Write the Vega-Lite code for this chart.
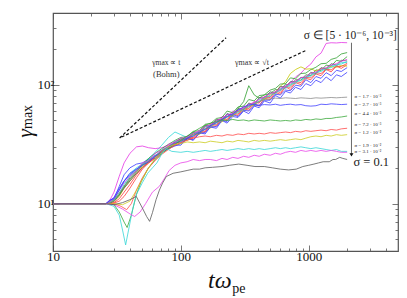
{
"$schema":"https://vega.github.io/schema/vega-lite/v6.json",
"width":345,"height":238,
"autosize":{"type":"none"},
"padding":{"left":53,"top":13,"right":9,"bottom":47},
"background":"white",
"config":{"view":{"stroke":"#555555","strokeWidth":1.2},"axis":{"grid":false,"domain":false},"text":{"font":"Liberation Serif, serif"}},
"datasets":{
"series":[
{"s":"b1","t":10,"g":10},{"s":"b1","t":26,"g":10},{"s":"b1","t":28,"g":10.8},{"s":"b1","t":30,"g":11},{"s":"b1","t":33,"g":14},{"s":"b1","t":36,"g":17.5},{"s":"b1","t":40,"g":20},{"s":"b1","t":45,"g":21.5},{"s":"b1","t":50,"g":22},{"s":"b1","t":56,"g":23.5},{"s":"b1","t":63,"g":25.5},{"s":"b1","t":71,"g":27},{"s":"b1","t":80,"g":29.5},{"s":"b1","t":90,"g":31},{"s":"b1","t":100,"g":31},{"s":"b1","t":112,"g":35.5},{"s":"b1","t":125,"g":34},{"s":"b1","t":140,"g":39.5},{"s":"b1","t":155,"g":38.5},{"s":"b1","t":170,"g":44},{"s":"b1","t":190,"g":43},{"s":"b1","t":210,"g":50},{"s":"b1","t":230,"g":47.5},{"s":"b1","t":255,"g":54},{"s":"b1","t":280,"g":53},{"s":"b1","t":310,"g":60},{"s":"b1","t":340,"g":57},{"s":"b1","t":375,"g":66},{"s":"b1","t":410,"g":64},{"s":"b1","t":450,"g":73},{"s":"b1","t":500,"g":70},{"s":"b1","t":550,"g":81},{"s":"b1","t":600,"g":77},{"s":"b1","t":660,"g":88},{"s":"b1","t":720,"g":85},{"s":"b1","t":790,"g":95},{"s":"b1","t":870,"g":91},{"s":"b1","t":950,"g":102},{"s":"b1","t":1040,"g":98},{"s":"b1","t":1140,"g":109},{"s":"b1","t":1250,"g":104},{"s":"b1","t":1370,"g":116},{"s":"b1","t":1500,"g":108},{"s":"b1","t":1650,"g":121},{"s":"b1","t":1800,"g":117},{"s":"b1","t":2000,"g":127},
{"s":"b2","t":10,"g":10},{"s":"b2","t":26,"g":10},{"s":"b2","t":28,"g":10.2},{"s":"b2","t":30,"g":10.6},{"s":"b2","t":33,"g":11.8},{"s":"b2","t":36,"g":13.8},{"s":"b2","t":40,"g":16},{"s":"b2","t":45,"g":18.5},{"s":"b2","t":50,"g":21},{"s":"b2","t":56,"g":22.5},{"s":"b2","t":63,"g":25},{"s":"b2","t":71,"g":28},{"s":"b2","t":80,"g":30},{"s":"b2","t":90,"g":33},{"s":"b2","t":100,"g":35},{"s":"b2","t":112,"g":35},{"s":"b2","t":125,"g":38.5},{"s":"b2","t":140,"g":40},{"s":"b2","t":155,"g":44.5},{"s":"b2","t":170,"g":45},{"s":"b2","t":190,"g":50},{"s":"b2","t":210,"g":51},{"s":"b2","t":230,"g":56},{"s":"b2","t":255,"g":56},{"s":"b2","t":280,"g":63},{"s":"b2","t":310,"g":72},{"s":"b2","t":340,"g":98},{"s":"b2","t":375,"g":82},{"s":"b2","t":410,"g":77},{"s":"b2","t":450,"g":82},{"s":"b2","t":500,"g":84},{"s":"b2","t":550,"g":91},{"s":"b2","t":600,"g":90},{"s":"b2","t":660,"g":101},{"s":"b2","t":720,"g":99},{"s":"b2","t":790,"g":110},{"s":"b2","t":870,"g":109},{"s":"b2","t":950,"g":121},{"s":"b2","t":1040,"g":119},{"s":"b2","t":1140,"g":133},{"s":"b2","t":1250,"g":131},{"s":"b2","t":1370,"g":146},{"s":"b2","t":1500,"g":143},{"s":"b2","t":1650,"g":160},{"s":"b2","t":1800,"g":157},{"s":"b2","t":2000,"g":172},
{"s":"b3","t":10,"g":10},{"s":"b3","t":26,"g":10},{"s":"b3","t":28,"g":10},{"s":"b3","t":30,"g":10.1},{"s":"b3","t":33,"g":10.5},{"s":"b3","t":36,"g":11.5},{"s":"b3","t":40,"g":13.5},{"s":"b3","t":45,"g":16.5},{"s":"b3","t":50,"g":19.5},{"s":"b3","t":56,"g":22},{"s":"b3","t":63,"g":24},{"s":"b3","t":71,"g":27},{"s":"b3","t":80,"g":29},{"s":"b3","t":90,"g":31},{"s":"b3","t":100,"g":32.5},{"s":"b3","t":112,"g":35},{"s":"b3","t":125,"g":35.5},{"s":"b3","t":140,"g":39.5},{"s":"b3","t":155,"g":40},{"s":"b3","t":170,"g":45},{"s":"b3","t":190,"g":45},{"s":"b3","t":210,"g":51},{"s":"b3","t":230,"g":50},{"s":"b3","t":255,"g":57},{"s":"b3","t":280,"g":55},{"s":"b3","t":310,"g":63},{"s":"b3","t":340,"g":61},{"s":"b3","t":375,"g":69},{"s":"b3","t":410,"g":66},{"s":"b3","t":450,"g":77},{"s":"b3","t":500,"g":75},{"s":"b3","t":550,"g":86},{"s":"b3","t":600,"g":83},{"s":"b3","t":660,"g":96},{"s":"b3","t":720,"g":91},{"s":"b3","t":790,"g":104},{"s":"b3","t":870,"g":100},{"s":"b3","t":950,"g":113},{"s":"b3","t":1040,"g":110},{"s":"b3","t":1140,"g":123},{"s":"b3","t":1250,"g":119},{"s":"b3","t":1370,"g":134},{"s":"b3","t":1500,"g":128},{"s":"b3","t":1650,"g":143},{"s":"b3","t":1800,"g":137},{"s":"b3","t":2000,"g":147},
{"s":"b4","t":10,"g":10},{"s":"b4","t":26,"g":10},{"s":"b4","t":28,"g":10.5},{"s":"b4","t":30,"g":10.9},{"s":"b4","t":33,"g":13},{"s":"b4","t":36,"g":15.5},{"s":"b4","t":40,"g":18},{"s":"b4","t":45,"g":20},{"s":"b4","t":50,"g":21.5},{"s":"b4","t":56,"g":24},{"s":"b4","t":63,"g":27},{"s":"b4","t":71,"g":31},{"s":"b4","t":80,"g":36},{"s":"b4","t":90,"g":40},{"s":"b4","t":100,"g":38},{"s":"b4","t":112,"g":36},{"s":"b4","t":125,"g":39.5},{"s":"b4","t":140,"g":39},{"s":"b4","t":155,"g":44.5},{"s":"b4","t":170,"g":44},{"s":"b4","t":190,"g":50},{"s":"b4","t":210,"g":50},{"s":"b4","t":230,"g":57},{"s":"b4","t":255,"g":55},{"s":"b4","t":280,"g":62},{"s":"b4","t":310,"g":61},{"s":"b4","t":340,"g":69},{"s":"b4","t":375,"g":67},{"s":"b4","t":410,"g":76},{"s":"b4","t":450,"g":75},{"s":"b4","t":500,"g":85},{"s":"b4","t":550,"g":83},{"s":"b4","t":600,"g":94},{"s":"b4","t":660,"g":92},{"s":"b4","t":720,"g":104},{"s":"b4","t":790,"g":102},{"s":"b4","t":870,"g":114},{"s":"b4","t":950,"g":112},{"s":"b4","t":1040,"g":124},{"s":"b4","t":1140,"g":122},{"s":"b4","t":1250,"g":135},{"s":"b4","t":1370,"g":132},{"s":"b4","t":1500,"g":145},{"s":"b4","t":1650,"g":143},{"s":"b4","t":1800,"g":154},{"s":"b4","t":2000,"g":153},
{"s":"b5","t":10,"g":10},{"s":"b5","t":26,"g":10},{"s":"b5","t":28,"g":10.8},{"s":"b5","t":30,"g":12.5},{"s":"b5","t":33,"g":17},{"s":"b5","t":36,"g":22},{"s":"b5","t":40,"g":26.5},{"s":"b5","t":45,"g":30},{"s":"b5","t":50,"g":30.5},{"s":"b5","t":56,"g":29.5},{"s":"b5","t":63,"g":29},{"s":"b5","t":71,"g":29.5},{"s":"b5","t":80,"g":31},{"s":"b5","t":90,"g":32.5},{"s":"b5","t":100,"g":34},{"s":"b5","t":112,"g":37},{"s":"b5","t":125,"g":37},{"s":"b5","t":140,"g":41.5},{"s":"b5","t":155,"g":42},{"s":"b5","t":170,"g":46.5},{"s":"b5","t":190,"g":48},{"s":"b5","t":210,"g":54},{"s":"b5","t":230,"g":53.5},{"s":"b5","t":255,"g":60},{"s":"b5","t":280,"g":59},{"s":"b5","t":310,"g":66},{"s":"b5","t":340,"g":65},{"s":"b5","t":375,"g":72},{"s":"b5","t":410,"g":71},{"s":"b5","t":450,"g":79},{"s":"b5","t":500,"g":79},{"s":"b5","t":550,"g":88},{"s":"b5","t":600,"g":89},{"s":"b5","t":660,"g":98},{"s":"b5","t":720,"g":104},{"s":"b5","t":790,"g":116},{"s":"b5","t":870,"g":125},{"s":"b5","t":950,"g":138},{"s":"b5","t":1040,"g":149},{"s":"b5","t":1140,"g":171},{"s":"b5","t":1250,"g":184},{"s":"b5","t":1370,"g":222},{"s":"b5","t":1500,"g":225},{"s":"b5","t":1650,"g":224},{"s":"b5","t":1800,"g":226},{"s":"b5","t":2000,"g":225},
{"s":"b6","t":10,"g":10},{"s":"b6","t":26,"g":10},{"s":"b6","t":28,"g":10.2},{"s":"b6","t":30,"g":10.5},{"s":"b6","t":33,"g":11.5},{"s":"b6","t":36,"g":13.5},{"s":"b6","t":40,"g":15.5},{"s":"b6","t":45,"g":18},{"s":"b6","t":50,"g":20.5},{"s":"b6","t":56,"g":22.5},{"s":"b6","t":63,"g":25},{"s":"b6","t":71,"g":27},{"s":"b6","t":80,"g":30},{"s":"b6","t":90,"g":31.5},{"s":"b6","t":100,"g":34},{"s":"b6","t":112,"g":34},{"s":"b6","t":125,"g":38},{"s":"b6","t":140,"g":38},{"s":"b6","t":155,"g":43},{"s":"b6","t":170,"g":43},{"s":"b6","t":190,"g":48.5},{"s":"b6","t":210,"g":48.5},{"s":"b6","t":230,"g":54},{"s":"b6","t":255,"g":54},{"s":"b6","t":280,"g":60},{"s":"b6","t":310,"g":60},{"s":"b6","t":340,"g":66},{"s":"b6","t":375,"g":67},{"s":"b6","t":410,"g":73},{"s":"b6","t":450,"g":75},{"s":"b6","t":500,"g":82},{"s":"b6","t":550,"g":86},{"s":"b6","t":600,"g":97},{"s":"b6","t":660,"g":106},{"s":"b6","t":720,"g":124},{"s":"b6","t":790,"g":134},{"s":"b6","t":870,"g":141},{"s":"b6","t":950,"g":135},{"s":"b6","t":1040,"g":136},{"s":"b6","t":1140,"g":130},{"s":"b6","t":1250,"g":137},{"s":"b6","t":1370,"g":135},{"s":"b6","t":1500,"g":142},{"s":"b6","t":1650,"g":140},{"s":"b6","t":1800,"g":145},{"s":"b6","t":2000,"g":143},
{"s":"b7","t":10,"g":10},{"s":"b7","t":26,"g":10},{"s":"b7","t":28,"g":10.1},{"s":"b7","t":30,"g":10.4},{"s":"b7","t":33,"g":11.8},{"s":"b7","t":36,"g":13.5},{"s":"b7","t":40,"g":15.5},{"s":"b7","t":45,"g":18},{"s":"b7","t":50,"g":20},{"s":"b7","t":56,"g":22.5},{"s":"b7","t":63,"g":25},{"s":"b7","t":71,"g":27.5},{"s":"b7","t":80,"g":30},{"s":"b7","t":90,"g":33},{"s":"b7","t":100,"g":35},{"s":"b7","t":112,"g":35},{"s":"b7","t":125,"g":39.5},{"s":"b7","t":140,"g":39},{"s":"b7","t":155,"g":45.5},{"s":"b7","t":170,"g":45},{"s":"b7","t":190,"g":51},{"s":"b7","t":210,"g":50.5},{"s":"b7","t":230,"g":57},{"s":"b7","t":255,"g":55},{"s":"b7","t":280,"g":63},{"s":"b7","t":310,"g":62},{"s":"b7","t":340,"g":70},{"s":"b7","t":375,"g":68},{"s":"b7","t":410,"g":78},{"s":"b7","t":450,"g":77},{"s":"b7","t":500,"g":87},{"s":"b7","t":550,"g":85},{"s":"b7","t":600,"g":97},{"s":"b7","t":660,"g":95},{"s":"b7","t":720,"g":106},{"s":"b7","t":790,"g":106},{"s":"b7","t":870,"g":115},{"s":"b7","t":950,"g":115},{"s":"b7","t":1040,"g":127},{"s":"b7","t":1140,"g":124},{"s":"b7","t":1250,"g":139},{"s":"b7","t":1370,"g":136},{"s":"b7","t":1500,"g":150},{"s":"b7","t":1650,"g":146},{"s":"b7","t":1800,"g":160},{"s":"b7","t":2000,"g":158},
{"s":"b8","t":10,"g":10},{"s":"b8","t":26,"g":10},{"s":"b8","t":28,"g":10.6},{"s":"b8","t":30,"g":11.3},{"s":"b8","t":33,"g":13.5},{"s":"b8","t":36,"g":15.5},{"s":"b8","t":40,"g":17.5},{"s":"b8","t":45,"g":19.5},{"s":"b8","t":50,"g":21},{"s":"b8","t":56,"g":23.5},{"s":"b8","t":63,"g":24},{"s":"b8","t":71,"g":27},{"s":"b8","t":80,"g":29},{"s":"b8","t":90,"g":30.5},{"s":"b8","t":100,"g":32},{"s":"b8","t":112,"g":35},{"s":"b8","t":125,"g":34.5},{"s":"b8","t":140,"g":39},{"s":"b8","t":155,"g":39.5},{"s":"b8","t":170,"g":44},{"s":"b8","t":190,"g":44.5},{"s":"b8","t":210,"g":50},{"s":"b8","t":230,"g":49},{"s":"b8","t":255,"g":56},{"s":"b8","t":280,"g":54},{"s":"b8","t":310,"g":61},{"s":"b8","t":340,"g":60},{"s":"b8","t":375,"g":67},{"s":"b8","t":410,"g":67},{"s":"b8","t":450,"g":74},{"s":"b8","t":500,"g":74},{"s":"b8","t":550,"g":83},{"s":"b8","t":600,"g":82},{"s":"b8","t":660,"g":90},{"s":"b8","t":720,"g":89},{"s":"b8","t":790,"g":99},{"s":"b8","t":870,"g":97},{"s":"b8","t":950,"g":110},{"s":"b8","t":1040,"g":104},{"s":"b8","t":1140,"g":117},{"s":"b8","t":1250,"g":113},{"s":"b8","t":1370,"g":126},{"s":"b8","t":1500,"g":119},{"s":"b8","t":1650,"g":132},{"s":"b8","t":1800,"g":129},{"s":"b8","t":2000,"g":139},
{"s":"b9","t":10,"g":10},{"s":"b9","t":26,"g":10},{"s":"b9","t":28,"g":10.2},{"s":"b9","t":30,"g":10.7},{"s":"b9","t":33,"g":12},{"s":"b9","t":36,"g":14},{"s":"b9","t":40,"g":16.5},{"s":"b9","t":45,"g":19},{"s":"b9","t":50,"g":21.5},{"s":"b9","t":56,"g":24},{"s":"b9","t":63,"g":26.5},{"s":"b9","t":71,"g":29},{"s":"b9","t":80,"g":31.5},{"s":"b9","t":90,"g":34},{"s":"b9","t":100,"g":36},{"s":"b9","t":112,"g":36.5},{"s":"b9","t":125,"g":40.5},{"s":"b9","t":140,"g":41},{"s":"b9","t":155,"g":46.5},{"s":"b9","t":170,"g":47},{"s":"b9","t":190,"g":52},{"s":"b9","t":210,"g":53},{"s":"b9","t":230,"g":60},{"s":"b9","t":255,"g":58},{"s":"b9","t":280,"g":65},{"s":"b9","t":310,"g":66},{"s":"b9","t":340,"g":75},{"s":"b9","t":375,"g":73},{"s":"b9","t":410,"g":81},{"s":"b9","t":450,"g":82},{"s":"b9","t":500,"g":90},{"s":"b9","t":550,"g":93},{"s":"b9","t":600,"g":101},{"s":"b9","t":660,"g":102},{"s":"b9","t":720,"g":114},{"s":"b9","t":790,"g":112},{"s":"b9","t":870,"g":124},{"s":"b9","t":950,"g":125},{"s":"b9","t":1040,"g":134},{"s":"b9","t":1140,"g":140},{"s":"b9","t":1250,"g":150},{"s":"b9","t":1370,"g":151},{"s":"b9","t":1500,"g":163},{"s":"b9","t":1650,"g":168},{"s":"b9","t":1800,"g":181},{"s":"b9","t":2000,"g":186},
{"s":"b10","t":10,"g":10},{"s":"b10","t":26,"g":10},{"s":"b10","t":28,"g":10},{"s":"b10","t":30,"g":10.2},{"s":"b10","t":33,"g":11},{"s":"b10","t":36,"g":12.5},{"s":"b10","t":40,"g":14.5},{"s":"b10","t":45,"g":17.5},{"s":"b10","t":50,"g":20},{"s":"b10","t":56,"g":22},{"s":"b10","t":63,"g":24.5},{"s":"b10","t":71,"g":27.5},{"s":"b10","t":80,"g":30.5},{"s":"b10","t":90,"g":32},{"s":"b10","t":100,"g":33},{"s":"b10","t":112,"g":36},{"s":"b10","t":125,"g":36},{"s":"b10","t":140,"g":41},{"s":"b10","t":155,"g":40.5},{"s":"b10","t":170,"g":46.5},{"s":"b10","t":190,"g":46},{"s":"b10","t":210,"g":52.5},{"s":"b10","t":230,"g":51},{"s":"b10","t":255,"g":58},{"s":"b10","t":280,"g":56.5},{"s":"b10","t":310,"g":64},{"s":"b10","t":340,"g":63},{"s":"b10","t":375,"g":71},{"s":"b10","t":410,"g":70},{"s":"b10","t":450,"g":79},{"s":"b10","t":500,"g":78},{"s":"b10","t":550,"g":88},{"s":"b10","t":600,"g":86},{"s":"b10","t":660,"g":96},{"s":"b10","t":720,"g":95},{"s":"b10","t":790,"g":106},{"s":"b10","t":870,"g":104},{"s":"b10","t":950,"g":115},{"s":"b10","t":1040,"g":114},{"s":"b10","t":1140,"g":126},{"s":"b10","t":1250,"g":124},{"s":"b10","t":1370,"g":135},{"s":"b10","t":1500,"g":133},{"s":"b10","t":1650,"g":143},{"s":"b10","t":1800,"g":142},{"s":"b10","t":2000,"g":151},
{"s":"b11","t":10,"g":10},{"s":"b11","t":26,"g":10},{"s":"b11","t":28,"g":10.3},{"s":"b11","t":30,"g":10.7},{"s":"b11","t":33,"g":12.3},{"s":"b11","t":36,"g":14.5},{"s":"b11","t":40,"g":17},{"s":"b11","t":45,"g":19.5},{"s":"b11","t":50,"g":21},{"s":"b11","t":56,"g":23.5},{"s":"b11","t":63,"g":25},{"s":"b11","t":71,"g":28.5},{"s":"b11","t":80,"g":30},{"s":"b11","t":90,"g":33.5},{"s":"b11","t":100,"g":33},{"s":"b11","t":112,"g":36},{"s":"b11","t":125,"g":37},{"s":"b11","t":140,"g":41},{"s":"b11","t":155,"g":42},{"s":"b11","t":170,"g":46},{"s":"b11","t":190,"g":47},{"s":"b11","t":210,"g":52},{"s":"b11","t":230,"g":53},{"s":"b11","t":255,"g":57},{"s":"b11","t":280,"g":58},{"s":"b11","t":310,"g":63},{"s":"b11","t":340,"g":65},{"s":"b11","t":375,"g":70},{"s":"b11","t":410,"g":72},{"s":"b11","t":450,"g":78},{"s":"b11","t":500,"g":80},{"s":"b11","t":550,"g":87},{"s":"b11","t":600,"g":89},{"s":"b11","t":660,"g":96},{"s":"b11","t":720,"g":98},{"s":"b11","t":790,"g":106},{"s":"b11","t":870,"g":108},{"s":"b11","t":950,"g":116},{"s":"b11","t":1040,"g":118},{"s":"b11","t":1140,"g":127},{"s":"b11","t":1250,"g":129},{"s":"b11","t":1370,"g":137},{"s":"b11","t":1500,"g":139},{"s":"b11","t":1650,"g":147},{"s":"b11","t":1800,"g":149},{"s":"b11","t":2000,"g":156},
{"s":"b12","t":10,"g":10},{"s":"b12","t":26,"g":10},{"s":"b12","t":28,"g":10.4},{"s":"b12","t":30,"g":11},{"s":"b12","t":33,"g":13},{"s":"b12","t":36,"g":15},{"s":"b12","t":40,"g":17},{"s":"b12","t":45,"g":19},{"s":"b12","t":50,"g":22},{"s":"b12","t":56,"g":23},{"s":"b12","t":63,"g":26.5},{"s":"b12","t":71,"g":28},{"s":"b12","t":80,"g":31.5},{"s":"b12","t":90,"g":33},{"s":"b12","t":100,"g":35.5},{"s":"b12","t":112,"g":36},{"s":"b12","t":125,"g":39},{"s":"b12","t":140,"g":41},{"s":"b12","t":155,"g":44.5},{"s":"b12","t":170,"g":46},{"s":"b12","t":190,"g":50},{"s":"b12","t":210,"g":52},{"s":"b12","t":230,"g":56},{"s":"b12","t":255,"g":57},{"s":"b12","t":280,"g":61},{"s":"b12","t":310,"g":64},{"s":"b12","t":340,"g":68},{"s":"b12","t":375,"g":71},{"s":"b12","t":410,"g":75},{"s":"b12","t":450,"g":79},{"s":"b12","t":500,"g":84},{"s":"b12","t":550,"g":87},{"s":"b12","t":600,"g":93},{"s":"b12","t":660,"g":97},{"s":"b12","t":720,"g":103},{"s":"b12","t":790,"g":107},{"s":"b12","t":870,"g":114},{"s":"b12","t":950,"g":117},{"s":"b12","t":1040,"g":124},{"s":"b12","t":1140,"g":128},{"s":"b12","t":1250,"g":135},{"s":"b12","t":1370,"g":139},{"s":"b12","t":1500,"g":146},{"s":"b12","t":1650,"g":150},{"s":"b12","t":1800,"g":157},{"s":"b12","t":2000,"g":163},
{"s":"s1","t":10,"g":10},{"s":"s1","t":26,"g":10},{"s":"s1","t":28,"g":10.3},{"s":"s1","t":30,"g":10.8},{"s":"s1","t":33,"g":12.3},{"s":"s1","t":36,"g":14},{"s":"s1","t":40,"g":16},{"s":"s1","t":45,"g":18.5},{"s":"s1","t":50,"g":21},{"s":"s1","t":56,"g":23},{"s":"s1","t":63,"g":25},{"s":"s1","t":71,"g":28},{"s":"s1","t":80,"g":30},{"s":"s1","t":90,"g":32},{"s":"s1","t":100,"g":34.5},{"s":"s1","t":112,"g":35.5},{"s":"s1","t":125,"g":38},{"s":"s1","t":140,"g":39.5},{"s":"s1","t":155,"g":43},{"s":"s1","t":170,"g":44.5},{"s":"s1","t":190,"g":48.5},{"s":"s1","t":210,"g":50},{"s":"s1","t":230,"g":54},{"s":"s1","t":255,"g":55.5},{"s":"s1","t":280,"g":59.5},{"s":"s1","t":310,"g":62},{"s":"s1","t":340,"g":66.5},{"s":"s1","t":375,"g":69},{"s":"s1","t":410,"g":72},{"s":"s1","t":450,"g":74.5},{"s":"s1","t":500,"g":76},{"s":"s1","t":550,"g":77},{"s":"s1","t":600,"g":76.5},{"s":"s1","t":660,"g":77.5},{"s":"s1","t":720,"g":77},{"s":"s1","t":790,"g":76.5},{"s":"s1","t":870,"g":77.5},{"s":"s1","t":950,"g":77},{"s":"s1","t":1040,"g":76.5},{"s":"s1","t":1140,"g":77.5},{"s":"s1","t":1250,"g":77},{"s":"s1","t":1370,"g":77.5},{"s":"s1","t":1500,"g":78},{"s":"s1","t":1650,"g":77.5},{"s":"s1","t":1800,"g":78},{"s":"s1","t":2000,"g":78.5},
{"s":"s2","t":10,"g":10},{"s":"s2","t":26,"g":10},{"s":"s2","t":28,"g":10.7},{"s":"s2","t":30,"g":11},{"s":"s2","t":33,"g":13},{"s":"s2","t":36,"g":15.5},{"s":"s2","t":40,"g":18},{"s":"s2","t":45,"g":19.5},{"s":"s2","t":50,"g":21},{"s":"s2","t":56,"g":22.5},{"s":"s2","t":63,"g":25},{"s":"s2","t":71,"g":27},{"s":"s2","t":80,"g":30},{"s":"s2","t":90,"g":32},{"s":"s2","t":100,"g":33.5},{"s":"s2","t":112,"g":35.5},{"s":"s2","t":125,"g":37},{"s":"s2","t":140,"g":40},{"s":"s2","t":155,"g":42},{"s":"s2","t":170,"g":45},{"s":"s2","t":190,"g":48},{"s":"s2","t":210,"g":51},{"s":"s2","t":230,"g":54},{"s":"s2","t":255,"g":57},{"s":"s2","t":280,"g":61},{"s":"s2","t":310,"g":65},{"s":"s2","t":340,"g":67.5},{"s":"s2","t":375,"g":68.5},{"s":"s2","t":410,"g":67},{"s":"s2","t":450,"g":68},{"s":"s2","t":500,"g":67.5},{"s":"s2","t":550,"g":68.5},{"s":"s2","t":600,"g":67},{"s":"s2","t":660,"g":68},{"s":"s2","t":720,"g":68.5},{"s":"s2","t":790,"g":67.5},{"s":"s2","t":870,"g":68},{"s":"s2","t":950,"g":66.5},{"s":"s2","t":1040,"g":66},{"s":"s2","t":1140,"g":66.5},{"s":"s2","t":1250,"g":68.5},{"s":"s2","t":1370,"g":68},{"s":"s2","t":1500,"g":69},{"s":"s2","t":1650,"g":68.5},{"s":"s2","t":1800,"g":68},{"s":"s2","t":2000,"g":68.5},
{"s":"s3","t":10,"g":10},{"s":"s3","t":26,"g":10},{"s":"s3","t":30,"g":9.8},{"s":"s3","t":33,"g":8.5},{"s":"s3","t":36,"g":7},{"s":"s3","t":38,"g":6.3},{"s":"s3","t":41,"g":8},{"s":"s3","t":45,"g":12},{"s":"s3","t":49,"g":15.3},{"s":"s3","t":55,"g":19.5},{"s":"s3","t":63,"g":23.5},{"s":"s3","t":71,"g":26.5},{"s":"s3","t":80,"g":29},{"s":"s3","t":90,"g":31.5},{"s":"s3","t":100,"g":34},{"s":"s3","t":112,"g":37},{"s":"s3","t":125,"g":40},{"s":"s3","t":140,"g":43},{"s":"s3","t":155,"g":45.5},{"s":"s3","t":170,"g":47.5},{"s":"s3","t":190,"g":49},{"s":"s3","t":210,"g":50.5},{"s":"s3","t":230,"g":50},{"s":"s3","t":255,"g":51},{"s":"s3","t":280,"g":50},{"s":"s3","t":310,"g":50.5},{"s":"s3","t":340,"g":49.5},{"s":"s3","t":375,"g":50.5},{"s":"s3","t":410,"g":50},{"s":"s3","t":450,"g":49.5},{"s":"s3","t":500,"g":50.5},{"s":"s3","t":550,"g":50},{"s":"s3","t":600,"g":49.5},{"s":"s3","t":660,"g":50},{"s":"s3","t":720,"g":49.5},{"s":"s3","t":790,"g":50.5},{"s":"s3","t":870,"g":50},{"s":"s3","t":950,"g":51},{"s":"s3","t":1040,"g":50.5},{"s":"s3","t":1140,"g":51.5},{"s":"s3","t":1250,"g":51},{"s":"s3","t":1370,"g":52},{"s":"s3","t":1500,"g":52},{"s":"s3","t":1650,"g":53},{"s":"s3","t":1800,"g":53.5},{"s":"s3","t":2000,"g":54.5},
{"s":"s4","t":10,"g":10},{"s":"s4","t":26,"g":10},{"s":"s4","t":30,"g":10},{"s":"s4","t":34,"g":9.5},{"s":"s4","t":37.7,"g":8.9},{"s":"s4","t":41,"g":10},{"s":"s4","t":45,"g":13},{"s":"s4","t":50,"g":16.5},{"s":"s4","t":56,"g":20},{"s":"s4","t":63,"g":23},{"s":"s4","t":71,"g":26},{"s":"s4","t":80,"g":28.5},{"s":"s4","t":90,"g":31},{"s":"s4","t":100,"g":32.5},{"s":"s4","t":112,"g":34},{"s":"s4","t":125,"g":35.5},{"s":"s4","t":140,"g":36.5},{"s":"s4","t":155,"g":37},{"s":"s4","t":170,"g":36.5},{"s":"s4","t":190,"g":37.5},{"s":"s4","t":210,"g":37},{"s":"s4","t":230,"g":38},{"s":"s4","t":255,"g":37.5},{"s":"s4","t":280,"g":38.5},{"s":"s4","t":310,"g":38},{"s":"s4","t":340,"g":39},{"s":"s4","t":375,"g":38.5},{"s":"s4","t":410,"g":39},{"s":"s4","t":450,"g":38.5},{"s":"s4","t":500,"g":39.5},{"s":"s4","t":550,"g":39},{"s":"s4","t":600,"g":39.5},{"s":"s4","t":660,"g":40},{"s":"s4","t":720,"g":39.5},{"s":"s4","t":790,"g":40.5},{"s":"s4","t":870,"g":40},{"s":"s4","t":950,"g":41},{"s":"s4","t":1040,"g":40.5},{"s":"s4","t":1140,"g":41},{"s":"s4","t":1250,"g":41.5},{"s":"s4","t":1370,"g":41},{"s":"s4","t":1500,"g":42},{"s":"s4","t":1650,"g":41.5},{"s":"s4","t":1800,"g":42.5},{"s":"s4","t":2000,"g":43},
{"s":"s5","t":10,"g":10},{"s":"s5","t":26,"g":10},{"s":"s5","t":30,"g":10},{"s":"s5","t":35,"g":9.8},{"s":"s5","t":40,"g":10.5},{"s":"s5","t":45,"g":13},{"s":"s5","t":50,"g":16},{"s":"s5","t":56,"g":20},{"s":"s5","t":63,"g":24},{"s":"s5","t":71,"g":27},{"s":"s5","t":80,"g":30},{"s":"s5","t":90,"g":31.5},{"s":"s5","t":100,"g":32},{"s":"s5","t":112,"g":33},{"s":"s5","t":125,"g":32.5},{"s":"s5","t":140,"g":33},{"s":"s5","t":155,"g":32.5},{"s":"s5","t":170,"g":33.5},{"s":"s5","t":190,"g":33},{"s":"s5","t":210,"g":32.5},{"s":"s5","t":230,"g":33.5},{"s":"s5","t":255,"g":33},{"s":"s5","t":280,"g":34},{"s":"s5","t":310,"g":33.5},{"s":"s5","t":340,"g":33},{"s":"s5","t":375,"g":34},{"s":"s5","t":410,"g":33.5},{"s":"s5","t":450,"g":34},{"s":"s5","t":500,"g":33.5},{"s":"s5","t":550,"g":34},{"s":"s5","t":600,"g":34.5},{"s":"s5","t":660,"g":34},{"s":"s5","t":720,"g":34.5},{"s":"s5","t":790,"g":35},{"s":"s5","t":870,"g":34.5},{"s":"s5","t":950,"g":35.5},{"s":"s5","t":1040,"g":36.5},{"s":"s5","t":1140,"g":37},{"s":"s5","t":1250,"g":36.5},{"s":"s5","t":1370,"g":37.5},{"s":"s5","t":1500,"g":37},{"s":"s5","t":1650,"g":38},{"s":"s5","t":1800,"g":37.5},{"s":"s5","t":2000,"g":38},
{"s":"s6","t":10,"g":10},{"s":"s6","t":26,"g":10},{"s":"s6","t":30,"g":9.5},{"s":"s6","t":33,"g":8},{"s":"s6","t":35,"g":6},{"s":"s6","t":37,"g":4.5},{"s":"s6","t":39,"g":6},{"s":"s6","t":42,"g":9},{"s":"s6","t":45,"g":12},{"s":"s6","t":50,"g":15},{"s":"s6","t":55,"g":18},{"s":"s6","t":60,"g":20},{"s":"s6","t":65,"g":22},{"s":"s6","t":72,"g":27},{"s":"s6","t":77,"g":29},{"s":"s6","t":85,"g":27.5},{"s":"s6","t":100,"g":27},{"s":"s6","t":112,"g":27.5},{"s":"s6","t":125,"g":27},{"s":"s6","t":140,"g":27.5},{"s":"s6","t":155,"g":28},{"s":"s6","t":170,"g":27.5},{"s":"s6","t":190,"g":28},{"s":"s6","t":210,"g":28.5},{"s":"s6","t":230,"g":28},{"s":"s6","t":255,"g":28.5},{"s":"s6","t":280,"g":29},{"s":"s6","t":310,"g":28.5},{"s":"s6","t":340,"g":29},{"s":"s6","t":375,"g":28.5},{"s":"s6","t":410,"g":29},{"s":"s6","t":450,"g":28.5},{"s":"s6","t":500,"g":29},{"s":"s6","t":550,"g":29.5},{"s":"s6","t":600,"g":29},{"s":"s6","t":660,"g":29.5},{"s":"s6","t":720,"g":29},{"s":"s6","t":790,"g":29.5},{"s":"s6","t":870,"g":30},{"s":"s6","t":950,"g":29.5},{"s":"s6","t":1040,"g":29},{"s":"s6","t":1140,"g":29.5},{"s":"s6","t":1250,"g":29},{"s":"s6","t":1370,"g":28.5},{"s":"s6","t":1500,"g":28},{"s":"s6","t":1650,"g":28.5},{"s":"s6","t":1800,"g":27.5},{"s":"s6","t":2000,"g":27.5},
{"s":"s7","t":10,"g":10},{"s":"s7","t":26,"g":10},{"s":"s7","t":30,"g":9.8},{"s":"s7","t":35,"g":9},{"s":"s7","t":40,"g":8.2},{"s":"s7","t":43.5,"g":7.8},{"s":"s7","t":48,"g":8.5},{"s":"s7","t":53,"g":10},{"s":"s7","t":60,"g":12.5},{"s":"s7","t":68,"g":14},{"s":"s7","t":75,"g":16.5},{"s":"s7","t":81,"g":19},{"s":"s7","t":90,"g":21},{"s":"s7","t":100,"g":22},{"s":"s7","t":112,"g":22.5},{"s":"s7","t":125,"g":23.5},{"s":"s7","t":140,"g":23},{"s":"s7","t":155,"g":23.5},{"s":"s7","t":170,"g":23.5},{"s":"s7","t":190,"g":23},{"s":"s7","t":210,"g":24},{"s":"s7","t":230,"g":23.5},{"s":"s7","t":255,"g":24.5},{"s":"s7","t":280,"g":24},{"s":"s7","t":310,"g":25},{"s":"s7","t":340,"g":24.5},{"s":"s7","t":375,"g":25.5},{"s":"s7","t":410,"g":25},{"s":"s7","t":450,"g":26},{"s":"s7","t":500,"g":25.5},{"s":"s7","t":550,"g":26.5},{"s":"s7","t":600,"g":26},{"s":"s7","t":660,"g":27},{"s":"s7","t":720,"g":27.5},{"s":"s7","t":790,"g":27},{"s":"s7","t":870,"g":28},{"s":"s7","t":950,"g":27.5},{"s":"s7","t":1040,"g":28},{"s":"s7","t":1140,"g":27.5},{"s":"s7","t":1250,"g":28},{"s":"s7","t":1370,"g":27.5},{"s":"s7","t":1500,"g":28},{"s":"s7","t":1650,"g":27.5},{"s":"s7","t":1800,"g":27},{"s":"s7","t":2000,"g":27},
{"s":"s8","t":10,"g":10},{"s":"s8","t":26,"g":10},{"s":"s8","t":30,"g":9.8},{"s":"s8","t":35,"g":10.2},{"s":"s8","t":40,"g":10.8},{"s":"s8","t":44.8,"g":11.5},{"s":"s8","t":50,"g":9.2},{"s":"s8","t":54,"g":7.8},{"s":"s8","t":57,"g":7.1},{"s":"s8","t":60,"g":8.4},{"s":"s8","t":64,"g":10.8},{"s":"s8","t":68,"g":13},{"s":"s8","t":72,"g":14.9},{"s":"s8","t":77,"g":16.9},{"s":"s8","t":87,"g":18},{"s":"s8","t":100,"g":18.5},{"s":"s8","t":112,"g":19},{"s":"s8","t":125,"g":19.5},{"s":"s8","t":140,"g":19.5},{"s":"s8","t":155,"g":20},{"s":"s8","t":177,"g":20.2},{"s":"s8","t":210,"g":20.5},{"s":"s8","t":240,"g":21},{"s":"s8","t":284,"g":21.5},{"s":"s8","t":330,"g":21},{"s":"s8","t":380,"g":20.5},{"s":"s8","t":450,"g":20.5},{"s":"s8","t":520,"g":20},{"s":"s8","t":600,"g":19.5},{"s":"s8","t":697,"g":19.2},{"s":"s8","t":800,"g":19.5},{"s":"s8","t":900,"g":20.5},{"s":"s8","t":1000,"g":21},{"s":"s8","t":1100,"g":21.5},{"s":"s8","t":1196,"g":22},{"s":"s8","t":1300,"g":22.5},{"s":"s8","t":1450,"g":22.5},{"s":"s8","t":1550,"g":23.5},{"s":"s8","t":1626,"g":23.5},{"s":"s8","t":1750,"g":24.5},{"s":"s8","t":1850,"g":24},{"s":"s8","t":2000,"g":23.5}
],
"guides":[
{"k":"bohm","t":33.2,"g":35.6},{"k":"bohm","t":226,"g":248},
{"k":"sqrt","t":34.4,"g":36.3},{"k":"sqrt","t":948,"g":193.6}
],
"labels":[
{"label":"σ = 1.7 · 10⁻³","t":2280,"g":80.4},
{"label":"σ = 2.7 · 10⁻³","t":2280,"g":69.4},
{"label":"σ = 4.4 · 10⁻³","t":2280,"g":57.3},
{"label":"σ = 7.2 · 10⁻³","t":2280,"g":46.4},
{"label":"σ = 1.2 · 10⁻²","t":2280,"g":39.7},
{"label":"σ = 1.9 · 10⁻²","t":2280,"g":30.9},
{"label":"σ = 3.1 · 10⁻²","t":2280,"g":27.8}
]
},
"resolve":{"axis":{"x":"independent","y":"independent"}},
"layer":[
{"data":{"name":"series"},
 "mark":{"type":"line","strokeWidth":0.8,"clip":true},
 "encoding":{
  "x":{"field":"t","type":"quantitative","scale":{"type":"log","domain":[10,5000],"nice":false},
   "axis":{"orient":"bottom","title":null,"values":[10,20,30,40,50,60,70,80,90,100,200,300,400,500,600,700,800,900,1000,2000,3000,4000],
    "labelExpr":"datum.value==10?'10':datum.value==100?'100':datum.value==1000?'1000':''",
    "labelOverlap":false,"labelFlush":false,"labelFont":"Liberation Serif, serif","labelFontSize":13,"labelColor":"#111111","labelPadding":5,
    "tickSize":{"condition":{"test":"datum.value==10||datum.value==100||datum.value==1000","value":-6},"value":-3},
    "tickColor":"#555555","tickWidth":0.8,"domain":false,"grid":false}},
  "y":{"field":"g","type":"quantitative","scale":{"type":"log","domain":[4,400],"nice":false},
   "axis":{"orient":"left","title":null,"values":[5,6,7,8,9,10,20,30,40,50,60,70,80,90,100,200,300],
    "labelExpr":"datum.value==10?'10¹':datum.value==100?'10²':''",
    "labelOverlap":false,"labelFlush":false,"labelFont":"Liberation Serif, serif","labelFontSize":13,"labelColor":"#111111","labelPadding":5,
    "tickSize":{"condition":{"test":"datum.value==10||datum.value==100","value":-6},"value":-3},
    "tickColor":"#555555","tickWidth":0.8,"domain":false,"grid":false}},
  "color":{"field":"s","type":"nominal","legend":null,
   "scale":{"domain":["b1","b2","b3","b4","b5","b6","b7","b8","b9","b10","b11","b12","s1","s2","s3","s4","s5","s6","s7","s8"],
    "range":["#3a3aff","#2ea02e","#ff3a3a","#30d8d8","#e535e5","#c8c800","#606060","#3a3aff","#2ea02e","#ff3a3a","#30d8d8","#e535e5","#8c8c8c","#4040ff","#3aa83a","#ff4a4a","#cccc20","#35d5d5","#e845e8","#5a5a5a"]}}
 }},
{"data":{"values":[{}]},
 "mark":{"type":"point","opacity":0},
 "encoding":{
  "x":{"datum":100,"type":"quantitative","axis":{"orient":"top","title":null,"labels":false,"values":[10,20,30,40,50,60,70,80,90,100,200,300,400,500,600,700,800,900,1000,2000,3000,4000],
    "tickSize":{"condition":{"test":"datum.value==10||datum.value==100||datum.value==1000","value":-6},"value":-3},
    "tickColor":"#555555","tickWidth":0.8,"domain":false,"grid":false}},
  "y":{"datum":10,"type":"quantitative","axis":{"orient":"right","title":null,"labels":false,"values":[5,6,7,8,9,10,20,30,40,50,60,70,80,90,100,200,300],
    "tickSize":{"condition":{"test":"datum.value==10||datum.value==100","value":-6},"value":-3},
    "tickColor":"#555555","tickWidth":0.8,"domain":false,"grid":false}}
 }},
{"data":{"name":"guides"},
 "mark":{"type":"line","strokeDash":[3,2],"color":"#111111","strokeWidth":1.2},
 "encoding":{"x":{"field":"t","type":"quantitative","axis":null},"y":{"field":"g","type":"quantitative","axis":null},"detail":{"field":"k"}}},
{"data":{"values":[{}]},
 "mark":{"type":"rule","color":"#444444","strokeWidth":0.8},
 "encoding":{"x":{"datum":2163,"type":"quantitative","axis":null},"y":{"datum":225,"type":"quantitative","axis":null},"y2":{"datum":26}}},
{"data":{"values":[{}]},
 "mark":{"type":"point","shape":"triangle-down","filled":true,"color":"#111111","size":16,"opacity":1},
 "encoding":{"x":{"datum":2163,"type":"quantitative","axis":null},"y":{"datum":25.7,"type":"quantitative","axis":null}}},
{"data":{"name":"labels"},
 "mark":{"type":"text","align":"left","baseline":"middle","font":"Liberation Serif, serif","fontSize":5,"color":"#222222"},
 "encoding":{"x":{"field":"t","type":"quantitative","axis":null},"y":{"field":"g","type":"quantitative","axis":null},"text":{"field":"label"}}},
{"data":{"values":[{}]},
 "mark":{"type":"text","text":"σ = 0.1","align":"left","baseline":"middle","font":"Liberation Serif, serif","fontSize":12.5,"color":"#222222"},
 "encoding":{"x":{"datum":2240,"type":"quantitative","axis":null},"y":{"datum":22.2,"type":"quantitative","axis":null}}},
{"data":{"values":[{}]},
 "mark":{"type":"text","text":"σ ∈ [5 · 10⁻⁶, 10⁻³]","align":"left","baseline":"middle","font":"Liberation Serif, serif","fontSize":11.5,"color":"#222222"},
 "encoding":{"x":{"datum":914,"type":"quantitative","axis":null},"y":{"datum":258,"type":"quantitative","axis":null}}},
{"data":{"values":[{}]},
 "mark":{"type":"text","text":"γmax ∝ t","align":"center","baseline":"middle","font":"Liberation Serif, serif","fontSize":7.5,"color":"#333333"},
 "encoding":{"x":{"datum":77,"type":"quantitative","axis":null},"y":{"datum":151,"type":"quantitative","axis":null}}},
{"data":{"values":[{}]},
 "mark":{"type":"text","text":"(Bohm)","align":"center","baseline":"middle","font":"Liberation Serif, serif","fontSize":8.5,"color":"#333333"},
 "encoding":{"x":{"datum":77,"type":"quantitative","axis":null},"y":{"datum":124,"type":"quantitative","axis":null}}},
{"data":{"values":[{}]},
 "mark":{"type":"text","text":"γmax ∝ √t","align":"center","baseline":"middle","font":"Liberation Serif, serif","fontSize":8,"color":"#333333"},
 "encoding":{"x":{"datum":360,"type":"quantitative","axis":null},"y":{"datum":153,"type":"quantitative","axis":null}}},
{"data":{"values":[{}]},
 "mark":{"type":"text","text":"γ","align":"right","baseline":"middle","angle":270,"font":"Liberation Serif, serif","fontStyle":"italic","fontSize":22,"color":"#111111"},
 "encoding":{"x":{"datum":6.05,"type":"quantitative","axis":null},"y":{"datum":42.4,"type":"quantitative","axis":null}}},
{"data":{"values":[{}]},
 "mark":{"type":"text","text":"max","align":"left","baseline":"middle","angle":270,"font":"Liberation Serif, serif","fontSize":14,"color":"#111111"},
 "encoding":{"x":{"datum":6.4,"type":"quantitative","axis":null},"y":{"datum":42.4,"type":"quantitative","axis":null}}},
{"data":{"values":[{}]},
 "mark":{"type":"text","text":"tω","align":"right","baseline":"middle","font":"Liberation Serif, serif","fontStyle":"italic","fontSize":24,"color":"#111111"},
 "encoding":{"x":{"datum":250,"type":"quantitative","axis":null},"y":{"datum":2.23,"type":"quantitative","axis":null}}},
{"data":{"values":[{}]},
 "mark":{"type":"text","text":"pe","align":"left","baseline":"middle","font":"Liberation Serif, serif","fontSize":14,"color":"#111111"},
 "encoding":{"x":{"datum":252,"type":"quantitative","axis":null},"y":{"datum":1.91,"type":"quantitative","axis":null}}}
]
}
